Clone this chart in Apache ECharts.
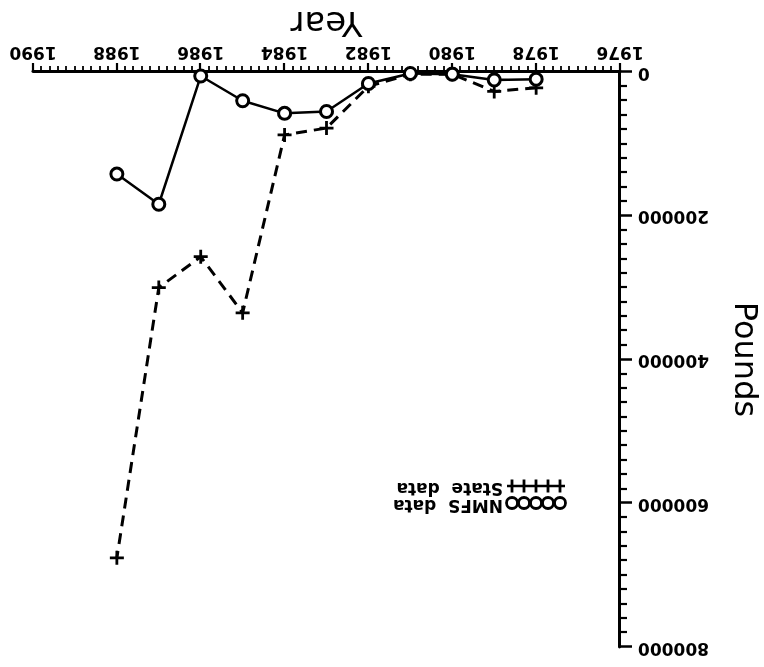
<!DOCTYPE html>
<html>
<head>
<meta charset="utf-8">
<script src="https://cdn.jsdelivr.net/npm/echarts@6/dist/echarts.min.js"></script>
<style>
  html, body { margin: 0; padding: 0; background: #fff; }
  #chart { width: 764px; height: 667px; transform: rotate(180deg); }
</style>
</head>
<body>
<div id="chart"></div>
<script>
// Annual landings, pounds, from two reporting sources
const years = [1978, 1979, 1980, 1981, 1982, 1983, 1984, 1985, 1986, 1987, 1988];
const nmfsPounds = [10000, 11000, 3000, 2000, 16000, 55000, 57500, 40000, 5600, 184000, 142000];
const statePounds = [22000, 27000, 3000, 3000, 20000, 78000, 87500, 335000, 257000, 300000, 676000];
const yearTicks = [1976, 1978, 1980, 1982, 1984, 1986, 1988, 1990];
const poundTicks = [0, 200000, 400000, 600000, 800000];

const seriesNames = ['NMFS  data', 'State  data'];
const plusPath = 'path://M5.6 0h2.8v5.6h5.6v2.8h-5.6v5.6h-2.8v-5.6h-5.6v-2.8h5.6z';

const pairs = vals => years.map((y, i) => [y, vals[i]]);

const chart = echarts.init(document.getElementById('chart'), null, { renderer: 'canvas' });

const labelFont = { fontFamily: 'DejaVu Sans', fontWeight: 'bold', fontSize: 17, color: '#000' };

// key: five markers on a short line, followed by the series name
function keyRow(y, kind, text) {
  const children = [{
    type: 'line',
    shape: { x1: 199, y1: y, x2: 257, y2: y },
    style: { stroke: '#000', lineWidth: 2.5 }
  }];
  for (let k = 0; k < 5; k++) {
    const cx = 204 + k * 12;
    if (kind === 'circle') {
      children.push({
        type: 'circle',
        shape: { cx: cx, cy: y, r: 5.5 },
        style: { fill: '#fff', stroke: '#000', lineWidth: 2.8 }
      });
    } else {
      children.push({
        type: 'line',
        shape: { x1: cx, y1: y - 6.5, x2: cx, y2: y + 6.5 },
        style: { stroke: '#000', lineWidth: 2.8 }
      });
    }
  }
  children.push({
    type: 'text',
    left: 261, top: y - 10,
    style: { text: text, font: 'bold 17px "DejaVu Sans"', fill: '#000' }
  });
  return children;
}

chart.setOption({
  animation: false,
  backgroundColor: '#fff',
  grid: { left: 144, right: 33, top: 20, bottom: 72, containLabel: false, outerBoundsMode: 'none' },
  xAxis: {
    type: 'value',
    min: yearTicks[0],
    max: yearTicks[yearTicks.length - 1],
    interval: 2,
    name: 'Year',
    nameLocation: 'middle',
    nameGap: 31,
    nameTextStyle: { fontFamily: 'DejaVu Sans', fontSize: 34, color: '#000' },
    axisLine: { show: true, lineStyle: { color: '#000', width: 3 } },
    axisTick: { show: true, length: 9, lineStyle: { color: '#000', width: 2.2 } },
    minorTick: { show: true, splitNumber: 10, length: 6, lineStyle: { color: '#000', width: 1.8 } },
    splitLine: { show: false },
    minorSplitLine: { show: false },
    axisLabel: Object.assign({ margin: 12, formatter: v => String(v) }, labelFont)
  },
  yAxis: {
    type: 'value',
    min: poundTicks[0],
    max: poundTicks[poundTicks.length - 1],
    interval: 200000,
    name: 'Pounds',
    nameLocation: 'middle',
    nameGap: 107,
    nameTextStyle: { fontFamily: 'DejaVu Sans', fontSize: 32, color: '#000' },
    axisLine: { show: true, lineStyle: { color: '#000', width: 3 } },
    axisTick: { show: true, length: 12, lineStyle: { color: '#000', width: 2.5 } },
    minorTick: { show: true, splitNumber: 10, length: 7, lineStyle: { color: '#000', width: 2.2 } },
    splitLine: { show: false },
    minorSplitLine: { show: false },
    axisLabel: Object.assign({ margin: 18, formatter: v => String(v) }, labelFont)
  },
  series: [
    {
      name: seriesNames[1],
      type: 'line',
      data: pairs(statePounds),
      symbol: plusPath,
      symbolSize: 14,
      itemStyle: { color: '#000' },
      lineStyle: { color: '#000', width: 3, type: [11, 7] },
      z: 2
    },
    {
      name: seriesNames[0],
      type: 'line',
      data: pairs(nmfsPounds),
      symbol: 'circle',
      symbolSize: 12,
      itemStyle: { color: '#fff', borderColor: '#000', borderWidth: 3 },
      lineStyle: { color: '#000', width: 2.5 },
      z: 3
    }
  ],
  graphic: [{
    type: 'group',
    children: keyRow(164, 'circle', seriesNames[0]).concat(keyRow(181, 'plus', seriesNames[1]))
  }]
});
</script>
</body>
</html>
